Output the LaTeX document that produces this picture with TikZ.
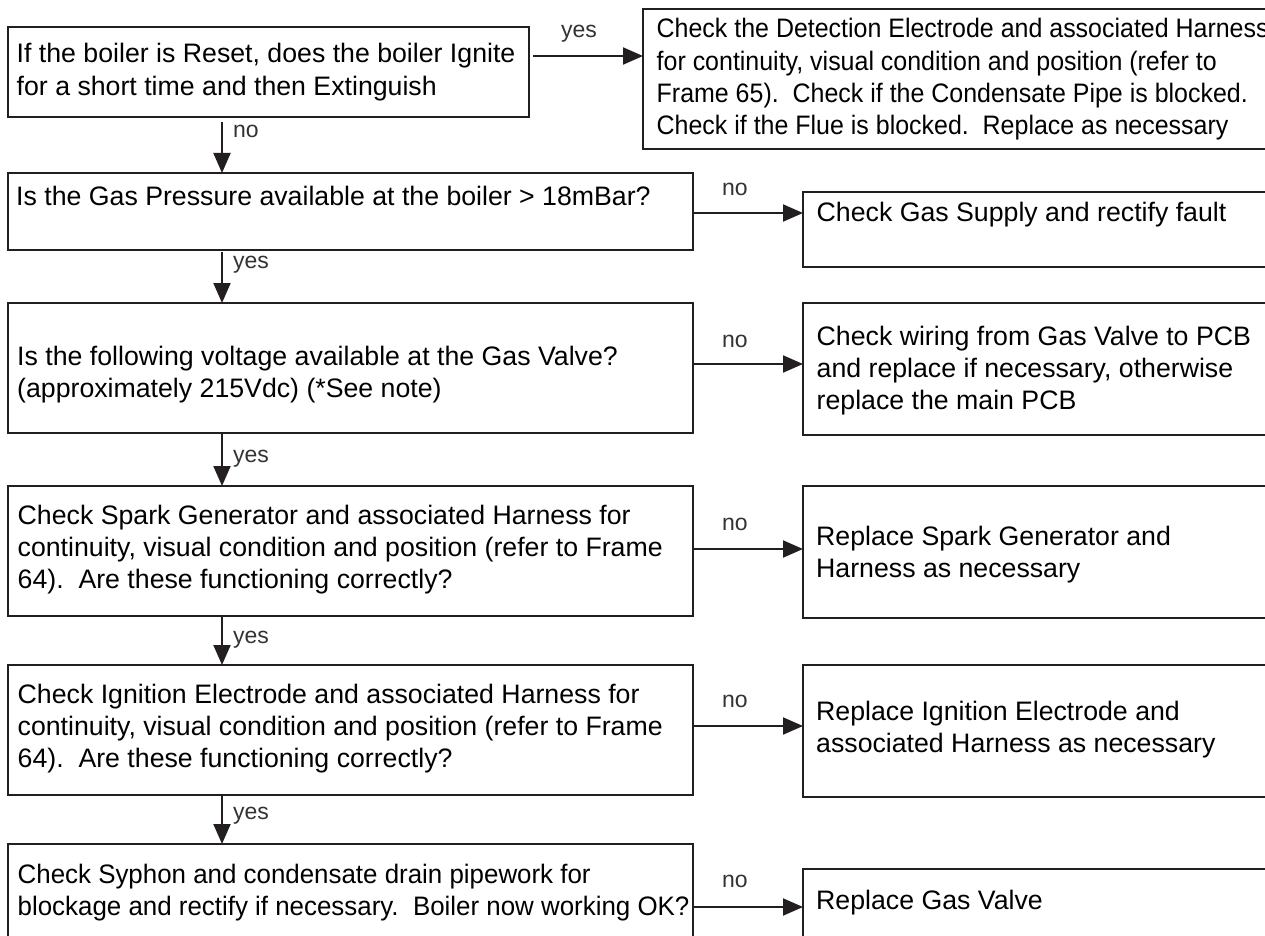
\documentclass[tikz,border=0pt]{standalone}
\usepackage{fontspec}
\setmainfont{Liberation Sans}
\usetikzlibrary{arrows.meta}
\definecolor{ink}{HTML}{231F20}
\definecolor{lab}{HTML}{333333}
\tikzset{
  box/.style={draw=ink, line width=2pt, rectangle, inner sep=0pt, outer sep=0pt, anchor=north west},
  % anchor = baseline of the LAST line of the text
  txt/.style={font=\fontsize{26.7}{32.2}\selectfont, align=left, anchor=base west, inner sep=0pt, text=black},
  lbl/.style={font=\fontsize{23}{26}\selectfont, anchor=base west, inner sep=0pt, text=lab},
  arr/.style={draw=ink, line width=2pt, -{Triangle[length=20pt,width=17pt]}},
}
\newcommand{\narrowtext}[2]{\scalebox{#1}[1]{\begin{tabular}[b]{@{}l@{}}#2\end{tabular}}}
\begin{document}
\begin{tikzpicture}[x=1pt,y=-1pt]
\path[use as bounding box] (0,0) rectangle (1265,936);
\clip (0,0) rectangle (1265,936);
% boxes
\node[box, minimum width=521pt, minimum height=90pt]  (b1) at (8,27) {};
\node[box, minimum width=685pt, minimum height=77pt]  (b2) at (8,173) {};
\node[box, minimum width=685pt, minimum height=130pt] (b3) at (8,303) {};
\node[box, minimum width=685pt, minimum height=130pt] (b4) at (8,486) {};
\node[box, minimum width=685pt, minimum height=130pt] (b5) at (8,665) {};
\node[box, minimum width=685pt, minimum height=100pt] (b6) at (8,844) {};
\node[box, minimum width=640pt, minimum height=140pt] (r1) at (643,9) {};
\node[box, minimum width=480pt, minimum height=75pt]  (r2) at (803,192) {};
\node[box, minimum width=480pt, minimum height=132pt] (r3) at (803,303) {};
\node[box, minimum width=480pt, minimum height=132pt] (r4) at (803,486) {};
\node[box, minimum width=480pt, minimum height=132pt] (r5) at (803,665) {};
\node[box, minimum width=480pt, minimum height=120pt] (r6) at (803,869) {};
% texts (positions give the last line's baseline)
\node[txt] (tb1) at (16.5,95.2) {If the boiler is Reset, does the boiler Ignite\\for a short time and then Extinguish};
\node[txt] (tb2) at (16,205) {Is the Gas Pressure available at the boiler > 18mBar?};
\node[txt] (tb3) at (17,397.2) {Is the following voltage available at the Gas Valve?\\(approximately 215Vdc) (*See note)};
\node[txt] (tb4) at (17.5,588.4) {Check Spark Generator and associated Harness for\\continuity, visual condition and position (refer to Frame\\64).\ \ Are these functioning correctly?};
\node[txt] (tb5) at (17.5,767.4) {Check Ignition Electrode and associated Harness for\\continuity, visual condition and position (refer to Frame\\64).\ \ Are these functioning correctly?};
\node[txt] (tb6) at (17.5,915.2) {\narrowtext{0.97}{Check Syphon and condensate drain pipework for\\blockage and rectify if necessary.\ \ Boiler now working OK?}};
\node[txt] (tr1) at (656.5,134.6) {\narrowtext{0.935}{Check the Detection Electrode and associated Harness\\for continuity, visual condition and position (refer to\\Frame 65).\ \ Check if the Condensate Pipe is blocked.\\Check if the Flue is blocked.\ \ Replace as necessary}};
\node[txt] (tr2) at (816.5,221) {Check Gas Supply and rectify fault};
\node[txt] (tr3) at (816.5,409.4) {Check wiring from Gas Valve to PCB\\and replace if necessary, otherwise\\replace the main PCB};
\node[txt] (tr4) at (816,577.2) {Replace Spark Generator and\\Harness as necessary};
\node[txt] (tr5) at (816,752.2) {Replace Ignition Electrode and\\associated Harness as necessary};
\node[txt] (tr6) at (816,909) {Replace Gas Valve};
% connector levels
\coordinate (ax) at (222,0);
\coordinate (y1) at (0,56);
\coordinate (y2) at (0,213);
\coordinate (y3) at (0,364);
\coordinate (y4) at (0,549);
\coordinate (y5) at (0,726);
\coordinate (y6) at (0,907);
% vertical connectors
\draw[arr, shorten <=5pt] (b1.south -| ax) -- (b2.north -| ax);
\draw[arr, shorten <=2pt] (b2.south -| ax) -- (b3.north -| ax);
\draw[arr] (b3.south -| ax) -- (b4.north -| ax);
\draw[arr] (b4.south -| ax) -- (b5.north -| ax);
\draw[arr] (b5.south -| ax) -- (b6.north -| ax);
% horizontal connectors
\draw[arr, shorten <=4pt] (b1.east |- y1) -- (r1.west |- y1);
\draw[arr] (b2.east |- y2) -- (r2.west |- y2);
\draw[arr] (b3.east |- y3) -- (r3.west |- y3);
\draw[arr] (b4.east |- y4) -- (r4.west |- y4);
\draw[arr] (b5.east |- y5) -- (r5.west |- y5);
\draw[arr] (b6.east |- y6) -- (r6.west |- y6);
% labels
\node[lbl] (l1) at (561,38) {yes};
\node[lbl] (l2) at (233,138) {no};
\node[lbl] (l3) at (722,195) {no};
\node[lbl] (l4) at (233,268) {yes};
\node[lbl] (l5) at (722,347) {no};
\node[lbl] (l6) at (233,462) {yes};
\node[lbl] (l7) at (722,530) {no};
\node[lbl] (l8) at (233,643) {yes};
\node[lbl] (l9) at (722,707) {no};
\node[lbl] (l10) at (233,819) {yes};
\node[lbl] (l11) at (722,887) {no};
\end{tikzpicture}
\end{document}
